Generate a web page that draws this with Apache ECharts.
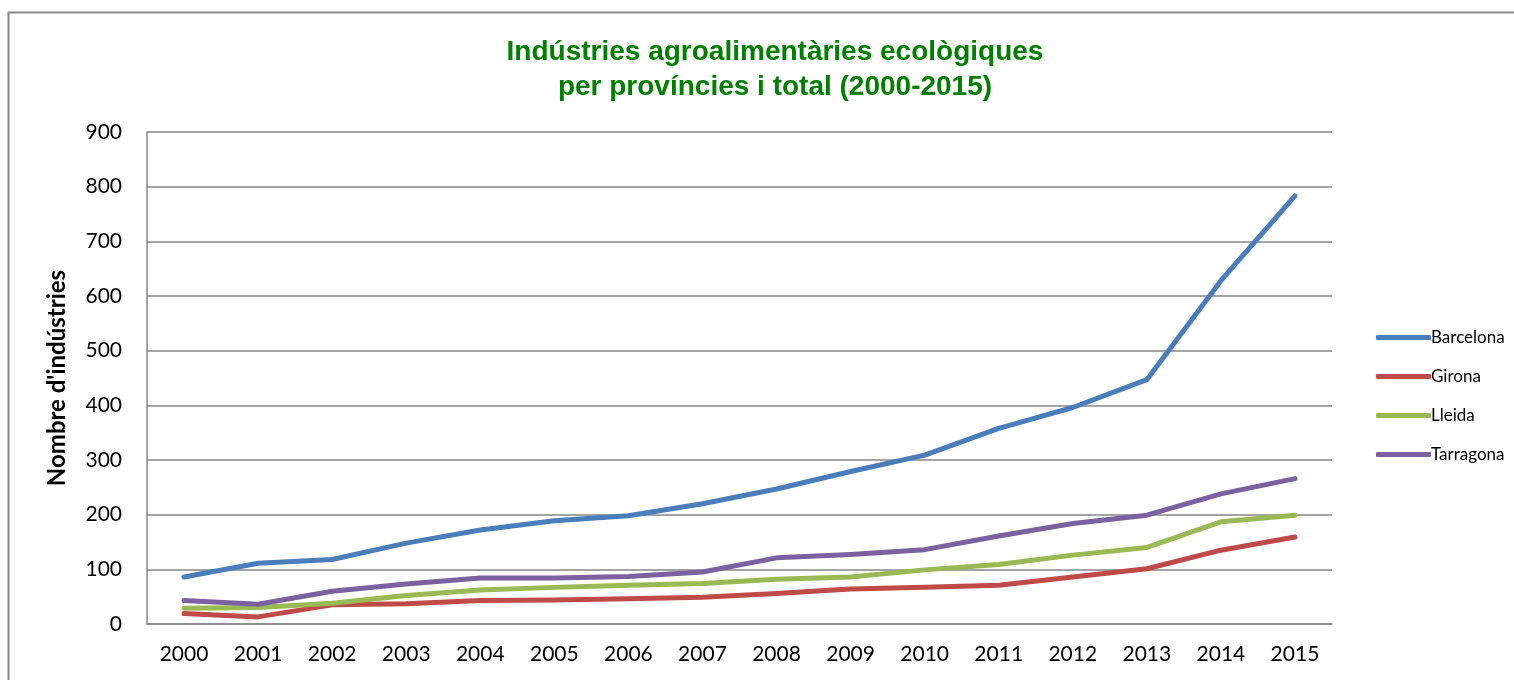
<!DOCTYPE html>
<html><head><meta charset="utf-8">
<script src="https://cdn.jsdelivr.net/npm/echarts@6/dist/echarts.min.js"></script>
<style>html,body{margin:0;padding:0;background:#fff;}#c{width:1514px;height:680px;}</style>
</head><body><div id="c"></div>
<script>
const years = ['2000','2001','2002','2003','2004','2005','2006','2007','2008','2009','2010','2011','2012','2013','2014','2015'];
const barcelona = [86, 111, 118, 148, 172, 189, 198, 220, 247, 279, 309, 358, 396, 447, 628, 783];
const girona = [19, 13, 35, 37, 43, 44, 46, 49, 56, 64, 67, 71, 86, 101, 135, 159];
const lleida = [29, 30, 38, 52, 62, 67, 71, 74, 82, 86, 99, 109, 126, 140, 187, 199];
const tarragona = [43, 36, 60, 73, 84, 84, 87, 95, 121, 127, 136, 161, 184, 199, 238, 266];
const seriesNames = ['Barcelona','Girona','Lleida','Tarragona'];
const colors = ['#4A7EBB','#BE4B48','#98B954','#7D60A0'];
const dataSets = [barcelona, girona, lleida, tarragona];

const chart = echarts.init(document.getElementById('c'));
chart.setOption({
  animation: false,
  textStyle: {fontFamily: 'Lato'},
  graphic: [{type:'rect', shape:{x:8.5,y:12.5,width:1540,height:700}, style:{fill:'none', stroke:'#888', lineWidth:2}, z:-1}],
  title: {
    text: 'Indústries agroalimentàries ecològiques\nper províncies i total (2000-2015)',
    left: 770, top: 30, textAlign: 'center',
    textStyle: {color:'#008000', fontFamily:'Liberation Sans', fontWeight:'bold', fontSize:28, lineHeight:35}
  },
  legend: {
    orient: 'vertical', left: 1371, top: 324,
    itemWidth: 55, itemHeight: 5, itemGap: 22, icon: 'roundRect',
    textStyle: {fontFamily:'Lato', fontSize:17, color:'#000', padding:[0,0,0,-5]},
    data: seriesNames
  },
  grid: {left:147, right:182, top:132, bottom:56, containLabel:false},
  xAxis: {
    type:'category', data: years, boundaryGap: true,
    axisLine:{lineStyle:{color:'#868686', width:1.5}},
    axisTick:{show:false},
    axisLabel:{color:'#000', fontSize:21, margin:20, fontFamily:'Lato'}
  },
  yAxis: {
    type:'value', min:0, max:900, interval:100,
    name: "Nombre d'indústries", nameLocation:'middle', nameGap:78, nameRotate:90,
    nameTextStyle:{color:'#000', fontSize:24, fontWeight:'bold', fontFamily:'Lato'},
    axisLine:{show:true, lineStyle:{color:'#868686', width:1.5}},
    axisTick:{show:false},
    splitLine:{lineStyle:{color:'#868686', width:1.5}},
    axisLabel:{color:'#000', fontSize:21, margin:25, fontFamily:'Lato'}
  },
  series: seriesNames.map((n,i)=>({
    name:n, type:'line', data:dataSets[i], color:colors[i],
    showSymbol:false, symbol:'none',
    lineStyle:{width:5, color:colors[i], cap:'round', join:'round'}
  }))
});
</script></body></html>
